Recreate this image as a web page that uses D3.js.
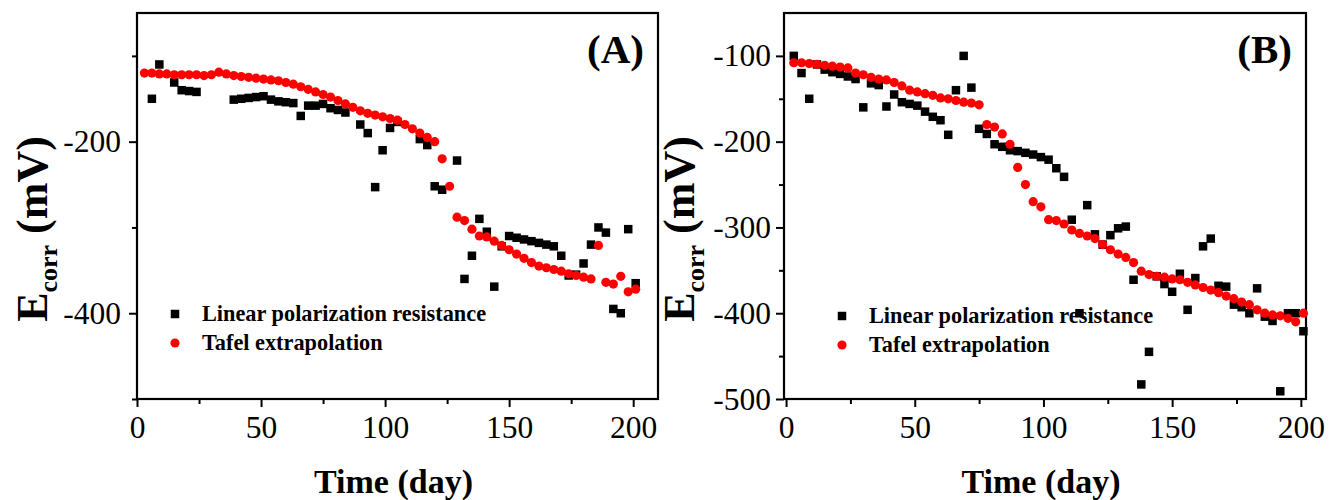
<!DOCTYPE html>
<html>
<head>
<meta charset="utf-8">
<script src="https://cdn.jsdelivr.net/npm/d3@7/dist/d3.min.js"></script>
<style>
  html, body { margin: 0; padding: 0; background: #fff; }
  svg { display: block; }
  text { font-family: "Liberation Serif", "Times New Roman", serif; }
</style>
</head>
<body>
<svg id="chart" width="1329" height="500"></svg>
<script>
// ---------------- DATA ----------------
// Panel A
const daysA_LPR = [6, 9, 15, 18, 21, 24, 39, 42, 45, 48, 51, 54, 57, 60, 63, 66, 69, 72, 75, 78, 81, 84, 90, 93, 96, 99, 102, 105, 114, 117, 120, 123, 129, 132, 135, 138, 141, 144, 147, 150, 153, 156, 159, 162, 165, 168, 171, 174, 177, 180, 183, 186, 189, 192, 195, 198, 201];
const ecorrA_LPR = [-150, -110, -131, -140, -141, -142, -151, -150, -149, -148, -147, -151, -153, -154, -155, -170, -158, -158, -156, -161, -163, -166, -180, -190, -253, -210, -184, -177, -197, -204, -252, -256, -222, -360, -333, -290, -305, -369, -322, -310, -312, -314, -316, -318, -320, -322, -333, -356, -355, -342, -320, -300, -306, -395, -400, -302, -365];

const daysA_Tafel = [3, 6, 9, 12, 15, 18, 21, 24, 27, 30, 33, 36, 39, 42, 45, 48, 51, 54, 57, 60, 63, 66, 69, 72, 75, 78, 81, 84, 87, 90, 93, 96, 99, 102, 105, 108, 111, 114, 117, 120, 123, 126, 129, 132, 135, 138, 141, 144, 147, 150, 153, 156, 159, 162, 165, 168, 171, 174, 177, 180, 183, 186, 189, 192, 195, 198, 201];
const ecorrA_Tafel = [-120, -120, -121, -121, -122, -122, -122, -122, -123, -122, -119, -121, -123, -124, -125, -126, -127, -128, -129, -131, -133, -136, -139, -142, -145, -148, -152, -156, -160, -164, -167, -169, -171, -173, -175, -180, -185, -190, -195, -200, -220, -252, -288, -292, -302, -310, -311, -316, -321, -326, -331, -336, -341, -345, -347, -349, -351, -354, -356, -358, -360, -321, -364, -366, -357, -375, -372];

// Panel B
const daysB_LPR = [3, 6, 9, 12, 15, 18, 21, 24, 27, 30, 33, 36, 39, 42, 45, 48, 51, 54, 57, 60, 63, 66, 69, 72, 75, 78, 81, 84, 87, 90, 93, 96, 99, 102, 105, 108, 111, 114, 117, 120, 123, 126, 129, 132, 135, 138, 141, 144, 147, 150, 153, 156, 159, 162, 165, 168, 171, 174, 177, 180, 183, 186, 189, 192, 195, 198, 201];
const ecorrB_LPR = [-100, -120, -150, -110, -116, -119, -121, -124, -127, -160, -132, -134, -159, -145, -154, -156, -158, -165, -171, -175, -192, -140, -100, -137, -185, -191, -203, -206, -210, -211, -213, -215, -218, -221, -231, -241, -291, -400, -274, -308, -320, -309, -301, -299, -361, -483, -445, -357, -366, -375, -354, -396, -359, -322, -313, -368, -369, -390, -393, -400, -371, -404, -409, -491, -400, -400, -421];

const daysB_Tafel = [3, 6, 9, 12, 15, 18, 21, 24, 27, 30, 33, 36, 39, 42, 45, 48, 51, 54, 57, 60, 63, 66, 69, 72, 75, 78, 81, 84, 87, 90, 93, 96, 99, 102, 105, 108, 111, 114, 117, 120, 123, 126, 129, 132, 135, 138, 141, 144, 147, 150, 153, 156, 159, 162, 165, 168, 171, 174, 177, 180, 183, 186, 189, 192, 195, 198, 201];
const ecorrB_Tafel = [-108, -108, -109, -110, -111, -112, -113, -114, -120, -122, -125, -127, -128, -131, -135, -140, -142, -144, -146, -149, -150, -152, -154, -155, -157, -180, -183, -191, -203, -230, -250, -270, -276, -291, -292, -296, -303, -307, -310, -313, -320, -326, -331, -335, -341, -351, -355, -357, -358, -360, -361, -364, -367, -370, -373, -376, -380, -383, -387, -390, -396, -400, -402, -403, -406, -410, -400];

// Ticks and labels
const xTicksMajor = [0, 50, 100, 150, 200];
const xTicksMinor = [25, 75, 125, 175];
const yTicksMajorA = [-200, -400];
const yTicksMinorA = [-100, -300, -500];
const yTicksMajorB = [-100, -200, -300, -400, -500];
const yTicksMinorB = [-150, -250, -350, -450];
const seriesNames = ["Linear polarization resistance", "Tafel extrapolation"];
const panelLabels = ["(A)", "(B)"];
const xTitle = "Time (day)";

// ---------------- DRAW ----------------
const svg = d3.select("#chart");
svg.append("rect").attr("width", 1329).attr("height", 500).attr("fill", "#fff");

function drawPanel(p) {
  const g = svg.append("g");
  const x = d3.scaleLinear().domain(p.xDomain).range([p.left, p.right]);
  const y = d3.scaleLinear().domain([-500, -50]).range([p.bottom, p.top]);

  // minor ticks
  const xMinor = d3.axisBottom(x).tickValues(xTicksMinor).tickSize(5).tickFormat("");
  const yMinor = d3.axisLeft(y).tickValues(p.yMinor).tickSize(5).tickFormat("");
  g.append("g").attr("transform", `translate(0,${p.bottom})`).call(xMinor);
  g.append("g").attr("transform", `translate(${p.left},0)`).call(yMinor);

  const xMajor = d3.axisBottom(x).tickValues(xTicksMajor).tickSize(8).tickPadding(9).tickFormat(d3.format("d"));
  const yMajor = d3.axisLeft(y).tickValues(p.yMajor).tickSize(8).tickPadding(p.yPad).tickFormat(d => "-" + Math.abs(d));
  g.append("g").attr("transform", `translate(0,${p.bottom})`).call(xMajor);
  g.append("g").attr("transform", `translate(${p.left},0)`).call(yMajor);

  g.selectAll(".domain").remove();
  g.selectAll(".tick line").attr("stroke", "#000").attr("stroke-width", 2);
  g.selectAll(".tick text")
    .attr("font-family", "Liberation Serif, serif")
    .attr("font-size", 31.5)
    .attr("fill", "#000");

  // frame
  g.append("rect")
    .attr("x", p.left).attr("y", p.top)
    .attr("width", p.right - p.left).attr("height", p.bottom - p.top)
    .attr("fill", "none").attr("stroke", "#000").attr("stroke-width", 2.2);

  // LPR squares
  const s = 8.5;
  g.append("g").selectAll("rect")
    .data(p.lprDays.map((d, i) => [d, p.lprVals[i]]))
    .join("rect")
    .attr("x", d => x(d[0]) - s / 2).attr("y", d => y(d[1]) - s / 2)
    .attr("width", s).attr("height", s).attr("fill", "#000");

  // Tafel circles
  g.append("g").selectAll("circle")
    .data(p.tafDays.map((d, i) => [d, p.tafVals[i]]))
    .join("circle")
    .attr("cx", d => x(d[0])).attr("cy", d => y(d[1]))
    .attr("r", 4.6).attr("fill", "#ff0000");

  // Legend
  const lg = g.append("g");
  lg.append("rect").attr("x", p.legX - s / 2).attr("y", p.legY - s / 2).attr("width", s).attr("height", s).attr("fill", "#000");
  lg.append("circle").attr("cx", p.legX).attr("cy", p.legY + 29).attr("r", 4.6).attr("fill", "#ff0000");
  lg.selectAll("text").data(seriesNames).join("text")
    .attr("x", p.legX + 27).attr("y", (d, i) => p.legY + i * 29 + 7)
    .attr("font-size", 22.3).attr("font-weight", "bold").attr("fill", "#000")
    .text(d => d);

  // Panel label
  g.append("text").attr("x", p.right - 14).attr("y", 63).attr("text-anchor", "end")
    .attr("font-size", 41).attr("font-weight", "bold").text(p.label);

  // X title
  g.append("text").attr("x", (p.left + p.right) / 2 - 4).attr("y", 493).attr("text-anchor", "middle")
    .attr("font-size", 34).attr("font-weight", "bold").text(xTitle);

  // Y title
  const yt = g.append("text")
    .attr("transform", `translate(${p.left - 90},229) rotate(-90)`)
    .attr("text-anchor", "middle").attr("font-size", 44).attr("font-weight", "bold");
  yt.append("tspan").text("E");
  yt.append("tspan").attr("font-size", 26).attr("dy", 10).text("corr");
  yt.append("tspan").attr("dy", -10).text(" (mV)");
}

drawPanel({
  left: 137, right: 658, top: 13, bottom: 399, xDomain: [0, 210],
  yMajor: yTicksMajorA, yMinor: yTicksMinorA, yPad: 8,
  lprDays: daysA_LPR, lprVals: ecorrA_LPR, tafDays: daysA_Tafel, tafVals: ecorrA_Tafel,
  legX: 175, legY: 314, label: panelLabels[0]
});
drawPanel({
  left: 784, right: 1306, top: 13, bottom: 399, xDomain: [-0.8, 202],
  yMajor: yTicksMajorB, yMinor: yTicksMinorB, yPad: 5,
  lprDays: daysB_LPR, lprVals: ecorrB_LPR, tafDays: daysB_Tafel, tafVals: ecorrB_Tafel,
  legX: 842, legY: 316, label: panelLabels[1]
});
</script>
</body>
</html>
